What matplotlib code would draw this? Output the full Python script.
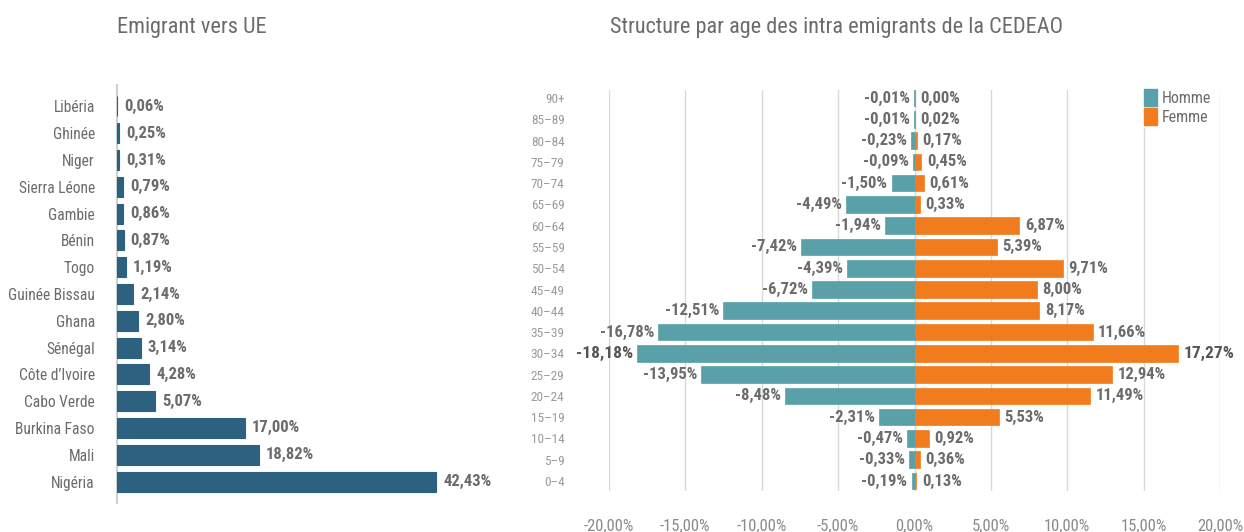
import matplotlib
matplotlib.use("Agg")
import matplotlib.pyplot as plt
from matplotlib import font_manager
from matplotlib.patches import Patch

names = {f.name for f in font_manager.fontManager.ttflist}
fam = [n for n in ["Liberation Sans Narrow", "Roboto Condensed", "Roboto", "DejaVu Sans"] if n in names]
plt.rcParams['font.family'] = fam

# ---- data ----
countries = ["Libéria", "Ghinée", "Niger", "Sierra Léone", "Gambie", "Bénin", "Togo",
             "Guinée Bissau", "Ghana", "Sénégal", "Côte d’Ivoire", "Cabo Verde",
             "Burkina Faso", "Mali", "Nigéria"]
emig_ue = [0.06, 0.25, 0.31, 0.79, 0.86, 0.87, 1.19, 2.14, 2.80, 3.14, 4.28, 5.07,
           17.00, 18.82, 42.43]

age_groups = ["90+", "85–89", "80–84", "75–79", "70–74", "65–69", "60–64", "55–59",
              "50–54", "45–49", "40–44", "35–39", "30–34", "25–29", "20–24", "15–19",
              "10–14", "5–9", "0–4"]
homme = [-0.01, -0.01, -0.23, -0.09, -1.50, -4.49, -1.94, -7.42, -4.39, -6.72, -12.51,
         -16.78, -18.18, -13.95, -8.48, -2.31, -0.47, -0.33, -0.19]
femme = [0.00, 0.02, 0.17, 0.45, 0.61, 0.33, 6.87, 5.39, 9.71, 8.00, 8.17, 11.66, 17.27,
         12.94, 11.49, 5.53, 0.92, 0.36, 0.13]
xticks = [-20, -15, -10, -5, 0, 5, 10, 15, 20]

BLUE = "#2d6180"
TEAL = "#5aa0a9"
ORANGE = "#f07c1e"
GREY = "#6b6b6b"
LGREY = "#8a8a8a"

def fr(v, dec=2):
    return f"{v:.{dec}f}".replace(".", ",") + "%"

W, H = 1244, 532
fig = plt.figure(figsize=(W / 100, H / 100), dpi=100)

# ---- left chart ----
ax1 = fig.add_axes([117 / W, 1 - 503 / H, 376 / W, (503 - 85) / H])
y = list(range(len(countries)))
ax1.barh(y, emig_ue, height=0.75, color=BLUE, edgecolor=BLUE, linewidth=0.8)
ax1.set_ylim(14.8, -0.8)
ax1.set_xlim(0, 50)
ax1.set_yticks(y)
ax1.set_yticklabels(countries, fontsize=11.2, color=GREY)
ax1.tick_params(axis='y', length=0, pad=16)
ax1.set_xticks([])
for s in ["top", "right", "bottom"]:
    ax1.spines[s].set_visible(False)
ax1.spines["left"].set_color("#d0d0d0")
ax1.spines["left"].set_linewidth(1.5)
ax1.spines["left"].set_zorder(0)
for yi, v in zip(y, emig_ue):
    ax1.annotate(fr(v), (v, yi), xytext=(5, 0), textcoords="offset points",
                 ha="left", va="center", fontsize=12, fontweight="bold", color=GREY)
fig.text(117 / W, 1 - 28 / H, "Emigrant vers UE", fontsize=16, color=GREY,
         ha="left", va="center")

# ---- right chart ----
ax2 = fig.add_axes([609 / W, 1 - 490.6 / H, 611 / W, (490.6 - 89.5) / H])
ya = list(range(len(age_groups)))
ax2.barh(ya, homme, height=0.78, color=TEAL, edgecolor=TEAL, linewidth=0.5, zorder=3)
ax2.barh(ya, femme, height=0.78, color=ORANGE, edgecolor=ORANGE, linewidth=0.5, zorder=3)
ax2.set_xlim(-20, 20)
ax2.set_ylim(18.45, -0.4)
ax2.set_yticks(ya)
ax2.set_yticklabels(age_groups, fontsize=9.5, color="#9a9a9a")
ax2.tick_params(axis='y', length=0, pad=32)
ax2.set_xticks(xticks)
ax2.set_xticklabels([fr(t) for t in xticks], fontsize=12, color=LGREY)
ax2.tick_params(axis='x', length=0, pad=20)
ax2.grid(axis='x', color="#d9d9d9", linewidth=1, zorder=0)
for s in ax2.spines.values():
    s.set_visible(False)
for yi, v in zip(ya, homme):
    big = abs(v) > 18
    ax2.annotate(fr(v), (v, yi), xytext=(-3, 0), textcoords="offset points",
                 ha="right", va="center", fontsize=12.5 if big else 12,
                 fontweight="bold", color="#555555" if big else GREY, zorder=4)
for yi, v in zip(ya, femme):
    big = v > 17
    ax2.annotate(fr(v), (v, yi), xytext=(4, 0), textcoords="offset points",
                 ha="left", va="center", fontsize=12.5 if big else 12,
                 fontweight="bold", color="#555555" if big else GREY, zorder=4)
leg = ax2.legend(handles=[Patch(color=TEAL, label="Homme"), Patch(color=ORANGE, label="Femme")],
                 loc="upper left", bbox_to_anchor=((1142 - 609) / 611, 1.005),
                 frameon=True, fancybox=False, edgecolor="white", framealpha=1,
                 fontsize=11.5, handlelength=0.85, handleheight=1.25, handletextpad=0.3,
                 labelspacing=0.15, borderpad=0.1, borderaxespad=0)
for t in leg.get_texts():
    t.set_color(GREY)
leg.set_zorder(5)
fig.text(610 / W, 1 - 28 / H, "Structure par age des intra emigrants de la CEDEAO",
         fontsize=16, color=GREY, ha="left", va="center")

fig.savefig("out.png", dpi=100)
